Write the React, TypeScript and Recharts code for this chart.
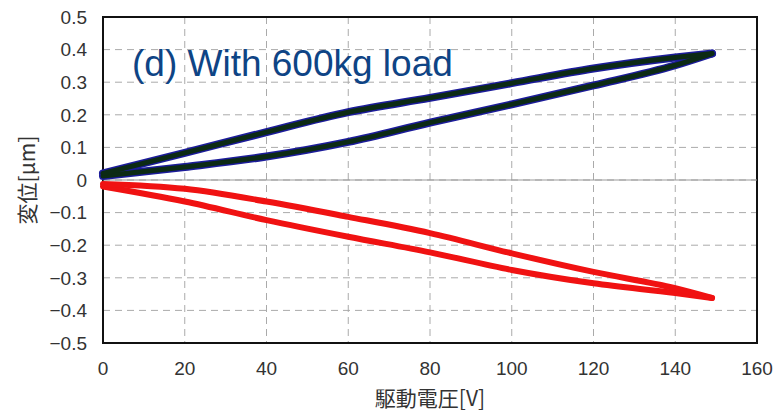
import {
  LineChart,
  Line,
  XAxis,
  YAxis,
  CartesianGrid,
  ReferenceLine,
  ReferenceArea,
} from "recharts";

// drive voltage sample points (V)
const voltage = [0, 20, 40, 60, 80, 100, 120, 140, 149];

// blue/green loop (upward displacement)
const blueRising = [0.012, 0.04, 0.072, 0.117, 0.176, 0.232, 0.29, 0.352, 0.388];
const blueFalling = [0.02, 0.083, 0.147, 0.208, 0.252, 0.297, 0.342, 0.376, 0.388];

// red loop (downward displacement)
const redRising = [-0.02, -0.066, -0.123, -0.174, -0.222, -0.276, -0.317, -0.347, -0.362];
const redFalling = [-0.012, -0.027, -0.066, -0.113, -0.163, -0.225, -0.282, -0.332, -0.362];

const xTicks = [0, 20, 40, 60, 80, 100, 120, 140, 160];
const yTicks = [-0.5, -0.4, -0.3, -0.2, -0.1, 0, 0.1, 0.2, 0.3, 0.4, 0.5];

const title = "(d) With 600kg load";
const xLabel = "駆動電圧[V]";
const yLabel = "変位[μm]";

const branch = (vals: number[]) => voltage.map((x, i) => ({ x, y: vals[i] }));

const branches = [
  { key: "bu", data: branch(blueRising), color: "#0c2a14", edge: "#1c1c9a" },
  { key: "bd", data: branch(blueFalling), color: "#0c2a14", edge: "#1c1c9a" },
  { key: "ru", data: branch(redRising), color: "#f01212", edge: "" },
  { key: "rd", data: branch(redFalling), color: "#f01212", edge: "" },
];

const tickStyle = { fill: "#333", fontSize: 19, fontFamily: "Liberation Sans, Arial, sans-serif" };
const cjkFont = "Noto Sans CJK JP, sans-serif";

const fmtY = (v: number) => {
  if (v === 0) return "0";
  const s = Math.abs(v).toFixed(1);
  return v < 0 ? "\u2212" + s : s;
};

export default function App() {
  return (
    <div style={{ position: "absolute", left: 0, top: 0, width: 780, height: 412, background: "#fff" }}>
      <LineChart width={780} height={412} margin={{ top: 17, right: 23, bottom: 0, left: 0 }}>
        <CartesianGrid stroke="#aaa" strokeDasharray="7 5" />
        <XAxis
          type="number"
          dataKey="x"
          domain={[0, 160]}
          ticks={xTicks}
          tick={tickStyle}
          tickLine={false}
          axisLine={false}
          tickSize={0}
          tickMargin={19}
          height={69}
          label={{
            value: xLabel,
            position: "insideBottom",
            offset: 6,
            style: { fill: "#333", fontSize: 21, fontFamily: cjkFont },
          }}
        />
        <YAxis
          type="number"
          dataKey="y"
          domain={[-0.5, 0.5]}
          ticks={yTicks}
          tickFormatter={fmtY}
          tick={tickStyle}
          tickLine={false}
          axisLine={false}
          tickSize={0}
          tickMargin={16}
          width={103}
          label={{
            value: yLabel,
            angle: -90,
            position: "insideLeft",
            offset: 28,
            style: { fill: "#333", fontSize: 21, fontFamily: cjkFont, textAnchor: "middle" },
          }}
        />
        <ReferenceLine y={0} stroke="#999" strokeWidth={1} />
        {branches
          .filter((b) => b.edge)
          .map((b) => (
            <Line
              key={b.key + "e"}
              data={b.data}
              dataKey="y"
              type="monotone"
              stroke={b.edge}
              strokeWidth={8}
              strokeLinecap="round"
              dot={false}
              isAnimationActive={false}
            />
          ))}
        {branches.map((b) => (
          <Line
            key={b.key}
            data={b.data}
            dataKey="y"
            type="monotone"
            stroke={b.color}
            strokeWidth={b.edge ? 5 : 6}
            strokeLinecap="round"
            dot={false}
            isAnimationActive={false}
          />
        ))}
        <ReferenceArea x1={0} x2={160} y1={-0.5} y2={0.5} fill="none" fillOpacity={0} stroke="#111" strokeWidth={2} />
      </LineChart>
      <div
        style={{
          position: "absolute",
          left: 132,
          top: 45,
          fontFamily: "Liberation Sans, Arial, sans-serif",
          fontSize: 37,
          lineHeight: "37px",
          color: "#0e4485",
          whiteSpace: "nowrap",
        }}
      >
        {title}
      </div>
    </div>
  );
}
